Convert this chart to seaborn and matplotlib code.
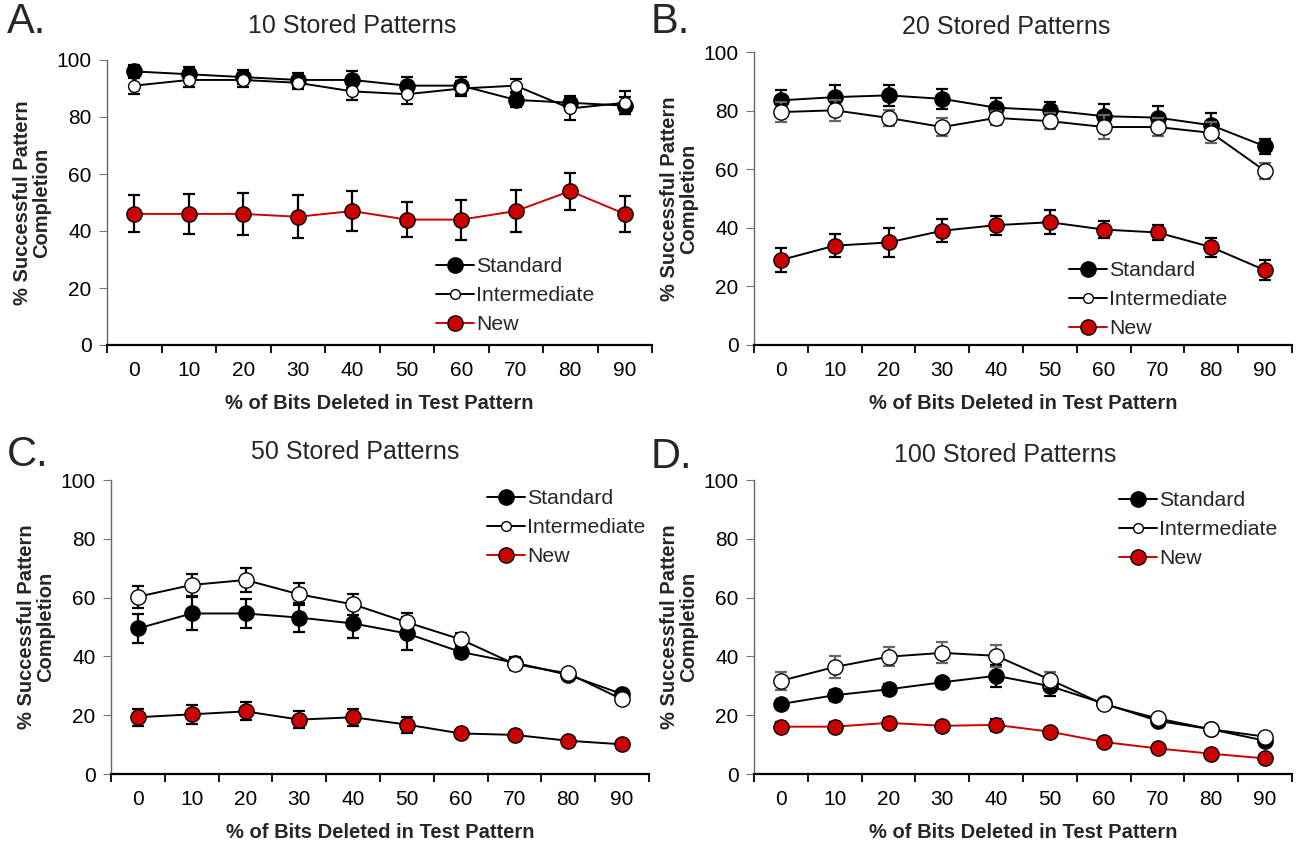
import numpy as np
import pandas as pd
import matplotlib
matplotlib.use("Agg")
import matplotlib.pyplot as plt
from matplotlib.lines import Line2D
from matplotlib.ticker import FixedLocator, NullFormatter
import seaborn as sns

sns.set_theme(style="white")
plt.rcParams['font.family'] = ['Liberation Sans', 'DejaVu Sans']

# ---------------- data ----------------
deleted = [0, 10, 20, 30, 40, 50, 60, 70, 80, 90]
series_names = ["Standard", "Intermediate", "New"]
panel_titles = ["10 Stored Patterns", "20 Stored Patterns", "50 Stored Patterns", "100 Stored Patterns"]
panel_letters = ["A.", "B.", "C.", "D."]

# Panel A: 10 stored patterns
a_standard = [96, 95, 94, 93, 93, 91, 91, 86, 85, 84]
a_standard_err = [2.2, 2.5, 2.5, 2.5, 3.0, 3.2, 3.0, 2.5, 2.5, 3.0]
a_inter = [91, 93, 93, 92, 89, 88, 90, 91, 83, 85]
a_inter_err = [3.0, 2.5, 2.5, 2.3, 3.0, 3.5, 2.5, 2.3, 4.0, 4.0]
a_new = [46, 46, 46, 45, 47, 44, 44, 47, 54, 46]
a_new_err = [6.5, 7.0, 7.5, 7.5, 6.9, 6.2, 7.0, 7.5, 6.5, 6.3]

# Panel B: 20 stored patterns
b_standard = [83.5, 84.6, 85.2, 84, 81, 80.1, 78.1, 77.6, 75, 67.8]
b_standard_err = [3.6, 4.3, 3.5, 3.5, 3.4, 2.7, 4.3, 3.9, 4.2, 2.6]
b_inter = [79.5, 80.1, 77.5, 74.4, 77.5, 76.4, 74.4, 74.4, 72.4, 59.4]
b_inter_err = [3.4, 3.6, 2.8, 3.1, 2.5, 2.8, 4.0, 3.2, 3.6, 2.6]
b_new = [29, 33.9, 35, 39, 40.9, 41.9, 39.4, 38.4, 33.4, 25.5]
b_new_err = [4.1, 3.9, 4.8, 4.0, 3.2, 4.1, 3.0, 2.5, 3.2, 3.4]

# Panel C: 50 stored patterns
c_standard = [49.5, 54.6, 54.6, 53.2, 51.2, 47.8, 41.5, 37.9, 33.7, 27.2]
c_standard_err = [5.0, 5.5, 4.9, 4.9, 4.8, 5.7, 2.0, 2.0, 1.0, 1.0]
c_inter = [60.3, 64.3, 66, 61.1, 57.7, 51.6, 45.8, 37.4, 34.2, 25.4]
c_inter_err = [3.7, 3.7, 4.2, 3.7, 3.5, 3.1, 2.0, 2.0, 1.0, 1.0]
c_new = [19.3, 20.3, 21.3, 18.5, 19.3, 16.8, 13.8, 13.3, 11.3, 10.1]
c_new_err = [2.9, 3.2, 3.1, 2.8, 2.9, 2.7, 1.0, 1.0, 1.0, 1.0]

# Panel D: 100 stored patterns
d_standard = [23.8, 26.8, 28.8, 31.2, 33.4, 29.9, 24, 18.1, 15.2, 11.3]
d_standard_err = [1.5, 1.8, 1.8, 1.5, 3.7, 3.4, 1.5, 1.0, 1.0, 1.0]
d_inter = [31.7, 36.4, 39.9, 41.2, 40.2, 32.1, 23.7, 18.9, 15.2, 12.7]
d_inter_err = [3.0, 3.8, 3.3, 3.6, 3.7, 2.5, 1.5, 1.0, 1.0, 1.0]
d_new = [16.1, 16.1, 17.4, 16.4, 16.7, 14.4, 10.9, 8.7, 6.9, 5.3]
d_new_err = [1.5, 1.5, 1.8, 1.2, 2.0, 1.2, 1.0, 1.0, 1.0, 1.0]

panels = [
    (a_standard, a_standard_err, a_inter, a_inter_err, a_new, a_new_err),
    (b_standard, b_standard_err, b_inter, b_inter_err, b_new, b_new_err),
    (c_standard, c_standard_err, c_inter, c_inter_err, c_new, c_new_err),
    (d_standard, d_standard_err, d_inter, d_inter_err, d_new, d_new_err),
]

# ---------------- layout ----------------
W, H = 1296, 848
fig = plt.figure(figsize=(W / 100, H / 100), dpi=100)
fig.patch.set_facecolor("white")

def px_rect(left, top, right, bottom):
    return [left / W, 1 - bottom / H, (right - left) / W, (bottom - top) / H]

axes_rects = [
    px_rect(107, 60, 652, 345),
    px_rect(754, 52, 1292, 345),
    px_rect(111, 480, 649, 774),
    px_rect(754, 480, 1292, 774),
]
new_line_colors = ["#cc0000", "black", "black", "#cc0000"]
inter_err_colors = ["black", "#666666", "black", "#666666"]
inter_marker_sizes = [8.5, 11, 11, 11]
# (x of legend handle start, y of first row centre) in pixels
legend_px = [(436, 269), (1069, 273), (487, 501), (1119, 503)]
title_pos = [(352, 26), (1006, 27), (355, 452), (1005, 455)]
letter_pos = [(7, 22), (651, 22), (7, 455), (651, 457)]
RED = "#cc0000"
LEG_FS = 15.3

for i, rect in enumerate(axes_rects):
    ax = fig.add_axes(rect)
    std, std_e, inter, inter_e, new, new_e = panels[i]
    pos = np.arange(len(deleted))
    df = pd.DataFrame({
        "pos": np.tile(pos, 3),
        "value": std + inter + new,
        "err": std_e + inter_e + new_e,
        "series": np.repeat(series_names, len(deleted)),
    })

    styles = {
        "Standard": dict(line="black", face="black", ms=11, ecol="black"),
        "Intermediate": dict(line="black", face="white", ms=inter_marker_sizes[i], ecol=inter_err_colors[i]),
        "New": dict(line=new_line_colors[i], face=RED, ms=11, ecol="black"),
    }
    for k, name in enumerate(series_names):
        sub = df[df["series"] == name]
        st = styles[name]
        ax.errorbar(sub["pos"], sub["value"], yerr=sub["err"], fmt="none",
                    ecolor=st["ecol"], elinewidth=1.6, capsize=4, capthick=1.6,
                    zorder=2 + 2 * k)
        sns.lineplot(data=sub, x="pos", y="value", ax=ax, color=st["line"],
                     linewidth=1.4, marker="o", markersize=st["ms"],
                     markerfacecolor=st["face"], markeredgecolor="black",
                     markeredgewidth=1.0, zorder=3 + 2 * k, legend=False,
                     errorbar=None)

    ax.set_xlim(-0.5, len(deleted) - 0.5)
    ax.set_ylim(0, 100)
    ax.set_yticks([0, 20, 40, 60, 80, 100])
    ax.set_xticks(pos)
    ax.set_xticklabels([str(d) for d in deleted])
    ax.xaxis.set_minor_locator(FixedLocator(np.arange(-0.5, len(deleted), 1.0)))
    ax.xaxis.set_minor_formatter(NullFormatter())
    ax.tick_params(axis="x", which="major", length=0, labelsize=15, pad=11.5, colors="black")
    ax.tick_params(axis="x", which="minor", length=6, width=1.3, direction="out",
                   bottom=True, color="black")
    ax.tick_params(axis="y", length=6, width=0.8, direction="out", labelsize=15,
                   left=True, color="#777777", labelcolor="black", pad=5)
    for sp in ["top", "right"]:
        ax.spines[sp].set_visible(False)
    ax.spines["bottom"].set_color("black")
    ax.spines["bottom"].set_linewidth(1.6)
    ax.spines["left"].set_color("#666666")
    ax.spines["left"].set_linewidth(1.0)
    ax.set_facecolor("white")
    ax.grid(False)
    ax.set_xlabel("% of Bits Deleted in Test Pattern", fontsize=14.5, fontweight="bold",
                  labelpad=10)
    ax.set_ylabel("% Successful Pattern\nCompletion", fontsize=14.5, fontweight="bold",
                  labelpad=4, linespacing=1.0)

    handles = [
        Line2D([], [], color="black", lw=1.4, marker="o", markersize=11,
               markerfacecolor="black", markeredgecolor="black"),
        Line2D([], [], color="black", lw=1.4, marker="o", markersize=7,
               markerfacecolor="white", markeredgecolor="black"),
        Line2D([], [], color=RED, lw=1.4, marker="o", markersize=11,
               markerfacecolor=RED, markeredgecolor="black"),
    ]
    lx, ly = legend_px[i]
    row_h = LEG_FS * 1.39
    ax.legend(handles, series_names, loc="upper left",
              bbox_to_anchor=(lx / W, 1 - (ly - row_h * 0.55) / H),
              bbox_transform=fig.transFigure,
              frameon=False, fontsize=LEG_FS, handlelength=1.8, handletextpad=0.1,
              labelspacing=0.47, borderpad=0, borderaxespad=0)

    fig.text(title_pos[i][0] / W, 1 - title_pos[i][1] / H, panel_titles[i],
             ha="center", va="center", fontsize=18)
    fig.text(letter_pos[i][0] / W, 1 - letter_pos[i][1] / H, panel_letters[i],
             ha="left", va="center", fontsize=30)

fig.savefig("out.png", dpi=100, facecolor="white")
